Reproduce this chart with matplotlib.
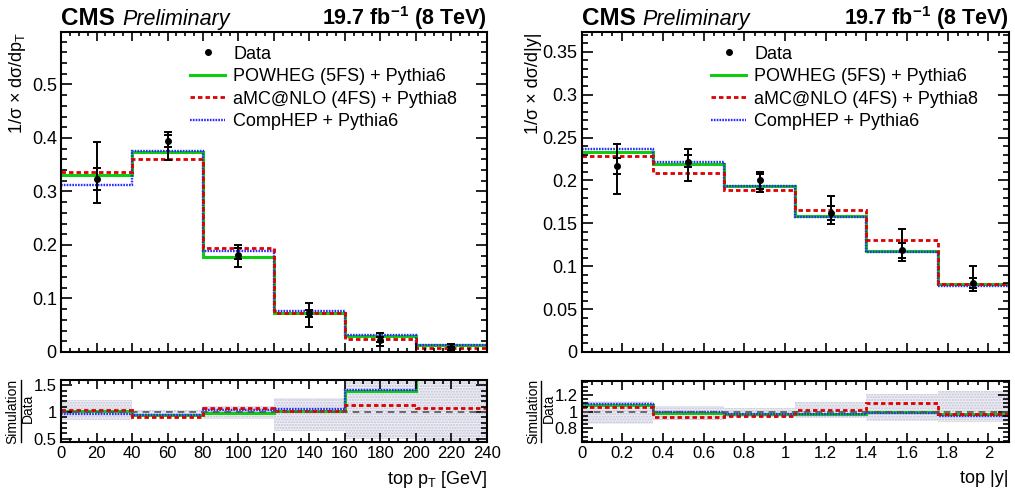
import numpy as np
import matplotlib
matplotlib.use("Agg")
from matplotlib import pyplot as plt
from matplotlib.ticker import MultipleLocator, FuncFormatter
from matplotlib.lines import Line2D

plt.rcParams["font.family"] = ["Liberation Sans", "DejaVu Sans"]
plt.rcParams["mathtext.fontset"] = "custom"
plt.rcParams["mathtext.rm"] = "Liberation Sans"
plt.rcParams["mathtext.it"] = "Liberation Sans:italic"
plt.rcParams["mathtext.bf"] = "Liberation Sans:bold"

# top pT
pt_edges = [0, 40, 80, 120, 160, 200, 240]
pt_data = [0.323, 0.394, 0.181, 0.072, 0.022, 0.0068]
pt_tot_up = [0.070, 0.018, 0.019, 0.019, 0.014, 0.0085]
pt_tot_dn = [0.045, 0.035, 0.023, 0.025, 0.011, 0.0048]
pt_stat_up = [0.020, 0.011, 0.014, 0.006, 0.006, 0.003]
pt_stat_dn = [0.021, 0.010, 0.008, 0.006, 0.004, 0.003]
pt_powheg = [0.330, 0.373, 0.178, 0.0735, 0.0305, 0.0131]
pt_amcnlo = [0.336, 0.361, 0.195, 0.0735, 0.0248, 0.0073]
pt_comphep = [0.312, 0.376, 0.188, 0.0766, 0.0312, 0.0133]

# top |y|
y_edges = [0, 0.35, 0.7, 1.05, 1.4, 1.75, 2.1]
y_data = [0.2165, 0.222, 0.2003, 0.162, 0.1186, 0.0806]
y_tot_up = [0.0265, 0.015, 0.0093, 0.0194, 0.0248, 0.0202]
y_tot_dn = [0.0318, 0.0222, 0.0133, 0.0132, 0.0128, 0.0097]
y_stat_up = [0.0100, 0.008, 0.0067, 0.0078, 0.0085, 0.0058]
y_stat_dn = [0.0095, 0.0066, 0.0103, 0.0077, 0.0089, 0.0058]
y_powheg = [0.2335, 0.2196, 0.1938, 0.1581, 0.1174, 0.0787]
y_amcnlo = [0.2280, 0.2089, 0.1891, 0.1659, 0.1302, 0.0787]
y_comphep = [0.2366, 0.2211, 0.1934, 0.1574, 0.1163, 0.0767]

labels = ["POWHEG (5FS) + Pythia6", "aMC@NLO (4FS) + Pythia8", "CompHEP + Pythia6"]
colors = ["#10cc10", "#dd0000", "#2a2aff"]
styles = ["-", (0, (1.6, 1.1)), (0, (0.7, 0.5))]
widths = [2.2, 2.0, 1.7]

def style_axis(ax, xmaj, xmin, ymaj, ymin, size):
    ax.xaxis.set_major_locator(MultipleLocator(xmaj))
    ax.xaxis.set_minor_locator(MultipleLocator(xmin))
    ax.yaxis.set_major_locator(MultipleLocator(ymaj))
    ax.yaxis.set_minor_locator(MultipleLocator(ymin))
    ax.tick_params(which="both", direction="in", top=True, right=True, labelsize=size, pad=3)
    ax.tick_params(axis="y", which="major", length=8, width=1.2)
    ax.tick_params(axis="y", which="minor", length=4, width=1.2)
    ax.tick_params(axis="x", which="major", length=6.5, width=1.2)
    ax.tick_params(axis="x", which="minor", length=3.2, width=1.2)
    for s in ax.spines.values():
        s.set_linewidth(1.5)

def panel(ax, rax, edges, data, tup, tdn, sup, sdn, sims, ylim, rlim,
          xmaj, xmin, ymaj, ymin, rmaj, rmin, ylabel, xlabel, ylab_x):
    edges = np.array(edges)
    data = np.array(data)
    centers = 0.5 * (edges[1:] + edges[:-1])
    draw_order = [0, 2, 1]
    for i in draw_order:
        ax.stairs(sims[i], edges, baseline=None, color=colors[i], ls=styles[i], lw=widths[i])
    ax.errorbar(centers, data, yerr=[tdn, tup], fmt="o", color="black", ms=4,
                elinewidth=1.4, capsize=3, capthick=1.4, zorder=5)
    ax.errorbar(centers, data, yerr=[sdn, sup], fmt="none", ecolor="black",
                elinewidth=1.4, capsize=3, capthick=1.4, zorder=5)
    ax.set_xlim(edges[0], edges[-1])
    ax.set_ylim(*ylim)
    style_axis(ax, xmaj, xmin, ymaj, ymin, 13)
    ax.tick_params(labelbottom=False)
    ax.yaxis.set_major_formatter(FuncFormatter(lambda v, p: "%g" % round(v, 3)))
    ax.text(ylab_x, 1.0, ylabel, rotation=90, ha="center", va="top",
            fontsize=13, transform=ax.transAxes)

    handles = [Line2D([], [], color="black", marker="o", ms=4, ls="none")]
    for i in range(3):
        handles.append(Line2D([], [], color=colors[i], ls=styles[i], lw=widths[i]))
    ax.legend(handles, ["Data"] + labels, loc="upper left", bbox_to_anchor=(0.303, 0.957),
              frameon=False, fontsize=13, handlelength=1.95, handletextpad=0.45,
              labelspacing=0.3, borderpad=0, borderaxespad=0)

    ax.text(0.0, 1.021, "CMS", fontsize=17.5, fontweight="bold", transform=ax.transAxes,
            ha="left", va="baseline")
    ax.text(0.143, 1.021, "Preliminary", fontsize=15.5, style="italic",
            transform=ax.transAxes, ha="left", va="baseline")
    ax.text(1.0, 1.021, r"19.7 fb$^{\mathbf{-1}}$ (8 TeV)", fontsize=15.5,
            fontweight="bold", transform=ax.transAxes, ha="right", va="baseline")

    # ratio panel
    rel_hi = 1 + np.array(tup) / data
    rel_lo = 1 - np.array(tdn) / data
    rax.bar(centers, rel_hi - rel_lo, bottom=rel_lo, width=np.diff(edges),
            facecolor="#eeeef5", edgecolor="#c2c2d6", hatch="......", lw=0)
    rax.axhline(1, color="#555555", ls=(0, (4, 3)), lw=1.2)
    for i in draw_order:
        rax.stairs(np.array(sims[i]) / data, edges, baseline=None, color=colors[i],
                   ls=styles[i], lw=widths[i])
    rax.set_xlim(edges[0], edges[-1])
    rax.set_ylim(*rlim)
    style_axis(rax, xmaj, xmin, rmaj, rmin, 12)
    rax.xaxis.set_major_formatter(FuncFormatter(lambda v, p: "%g" % round(v, 2)))
    rax.yaxis.set_major_formatter(FuncFormatter(lambda v, p: "%g" % round(v, 2)))
    rax.text(-0.114, 0.5, "Simulation", rotation=90, ha="center", va="center",
             fontsize=10, transform=rax.transAxes)
    rax.text(-0.077, 0.55, "Data", rotation=90, ha="center", va="center",
             fontsize=10, transform=rax.transAxes)
    rax.plot([-0.095, -0.095], [0.0, 1.0], color="black", lw=1,
             transform=rax.transAxes, clip_on=False)
    rax.text(1.0, -0.6, xlabel, ha="right", va="center", fontsize=13,
             transform=rax.transAxes)


fig = plt.figure(figsize=(10.15, 4.91), dpi=100)
ax1 = fig.add_axes([0.0601, 0.2831, 0.4197, 0.6517])
rax1 = fig.add_axes([0.0601, 0.0998, 0.4197, 0.1263])
ax2 = fig.add_axes([0.5731, 0.2831, 0.4207, 0.6517])
rax2 = fig.add_axes([0.5731, 0.0998, 0.4207, 0.1243])

panel(ax1, rax1, pt_edges, pt_data, pt_tot_up, pt_tot_dn, pt_stat_up, pt_stat_dn,
      [pt_powheg, pt_amcnlo, pt_comphep], (0, 0.598), (0.44, 1.6),
      20, 5, 0.1, 0.02, 0.5, 0.1,
      r"1/σ × dσ/dp$_{\mathrm{T}}$", r"top p$_{\mathrm{T}}$ [GeV]", -0.101)
panel(ax2, rax2, y_edges, y_data, y_tot_up, y_tot_dn, y_stat_up, y_stat_dn,
      [y_powheg, y_amcnlo, y_comphep], (0, 0.373), (0.635, 1.368),
      0.2, 0.05, 0.05, 0.01, 0.2, 0.05,
      "1/σ × dσ/d|y|", "top |y|", -0.114)

fig.savefig("out.png", dpi=100)
